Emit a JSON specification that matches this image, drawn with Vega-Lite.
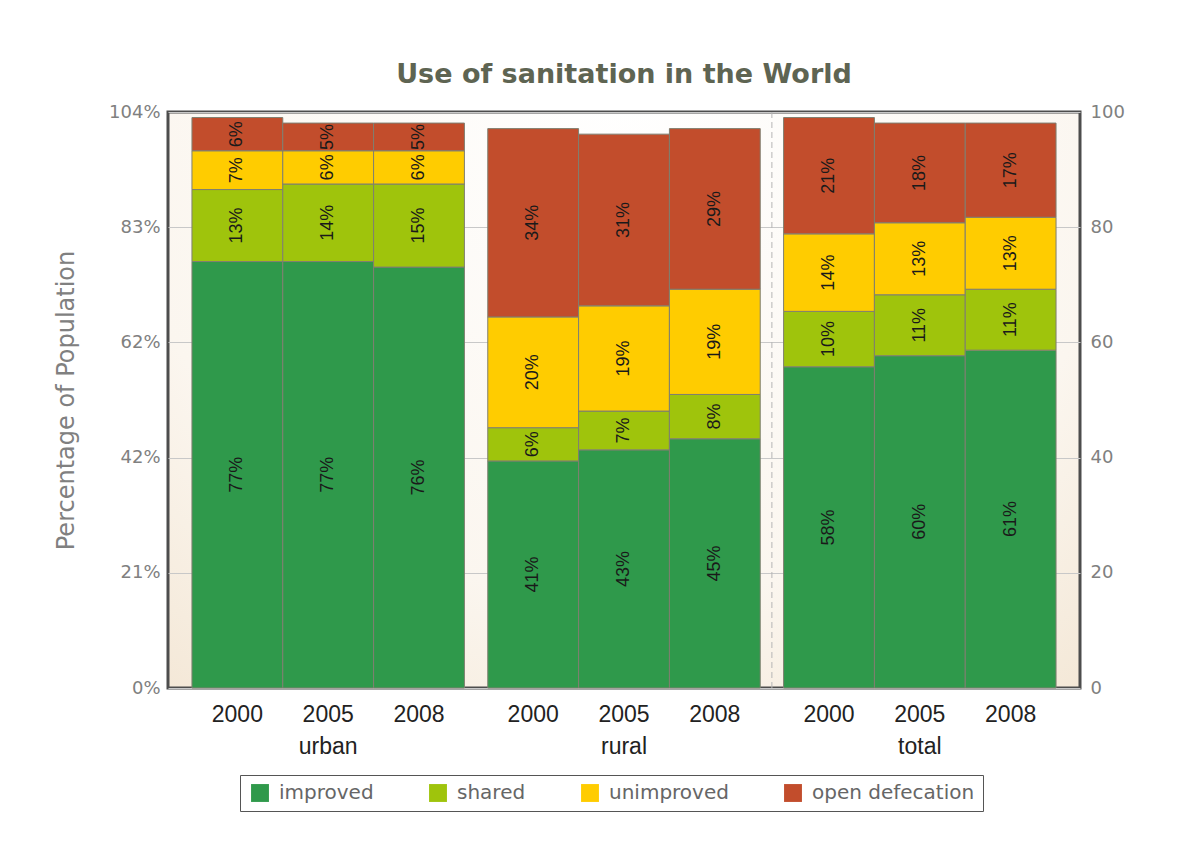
{
  "$schema": "https://vega.github.io/schema/vega-lite/v6.json",
  "width": 912,
  "height": 576,
  "autosize": {"type": "none"},
  "padding": {"left": 168, "top": 112, "right": 97, "bottom": 153},
  "background": "white",
  "title": {"text": "Use of sanitation in the World", "font": "DejaVu Sans", "fontSize": 27, "fontWeight": "bold", "color": "#5e6452", "anchor": "middle", "offset": 14},
  "data": {"values": [
    {"group": "urban", "year": "2000", "category": "improved", "value": 77},
    {"group": "urban", "year": "2000", "category": "shared", "value": 13},
    {"group": "urban", "year": "2000", "category": "unimproved", "value": 7},
    {"group": "urban", "year": "2000", "category": "open defecation", "value": 6},
    {"group": "urban", "year": "2005", "category": "improved", "value": 77},
    {"group": "urban", "year": "2005", "category": "shared", "value": 14},
    {"group": "urban", "year": "2005", "category": "unimproved", "value": 6},
    {"group": "urban", "year": "2005", "category": "open defecation", "value": 5},
    {"group": "urban", "year": "2008", "category": "improved", "value": 76},
    {"group": "urban", "year": "2008", "category": "shared", "value": 15},
    {"group": "urban", "year": "2008", "category": "unimproved", "value": 6},
    {"group": "urban", "year": "2008", "category": "open defecation", "value": 5},
    {"group": "rural", "year": "2000", "category": "improved", "value": 41},
    {"group": "rural", "year": "2000", "category": "shared", "value": 6},
    {"group": "rural", "year": "2000", "category": "unimproved", "value": 20},
    {"group": "rural", "year": "2000", "category": "open defecation", "value": 34},
    {"group": "rural", "year": "2005", "category": "improved", "value": 43},
    {"group": "rural", "year": "2005", "category": "shared", "value": 7},
    {"group": "rural", "year": "2005", "category": "unimproved", "value": 19},
    {"group": "rural", "year": "2005", "category": "open defecation", "value": 31},
    {"group": "rural", "year": "2008", "category": "improved", "value": 45},
    {"group": "rural", "year": "2008", "category": "shared", "value": 8},
    {"group": "rural", "year": "2008", "category": "unimproved", "value": 19},
    {"group": "rural", "year": "2008", "category": "open defecation", "value": 29},
    {"group": "total", "year": "2000", "category": "improved", "value": 58},
    {"group": "total", "year": "2000", "category": "shared", "value": 10},
    {"group": "total", "year": "2000", "category": "unimproved", "value": 14},
    {"group": "total", "year": "2000", "category": "open defecation", "value": 21},
    {"group": "total", "year": "2005", "category": "improved", "value": 60},
    {"group": "total", "year": "2005", "category": "shared", "value": 11},
    {"group": "total", "year": "2005", "category": "unimproved", "value": 13},
    {"group": "total", "year": "2005", "category": "open defecation", "value": 18},
    {"group": "total", "year": "2008", "category": "improved", "value": 61},
    {"group": "total", "year": "2008", "category": "shared", "value": 11},
    {"group": "total", "year": "2008", "category": "unimproved", "value": 13},
    {"group": "total", "year": "2008", "category": "open defecation", "value": 17}
  ]},
  "transform": [
    {"calculate": "indexof(['improved','shared','unimproved','open defecation'], datum.category)", "as": "rank"},
    {"stack": "value", "groupby": ["group", "year"], "sort": [{"field": "rank", "order": "ascending"}], "as": ["v0", "v1"]},
    {"calculate": "(datum.v0 + datum.v1) / 2", "as": "mid"},
    {"calculate": "datum.value + '%'", "as": "label"}
  ],
  "layer": [
    {
      "encoding": {
        "x": {
          "field": "group", "type": "nominal",
          "scale": {"domain": ["urban", "rural", "total"], "paddingInner": 0.079, "paddingOuter": 0.081},
          "axis": {"title": null, "domain": false, "ticks": false, "labelPadding": 58, "labelBaseline": "middle", "labelFont": "Liberation Sans", "labelFontSize": 23, "labelColor": "#222222", "labelAngle": 0}
        }
      },
      "layer": [
        {
          "mark": {"type": "bar", "stroke": "#7f7f70", "strokeWidth": 1},
          "encoding": {
            "xOffset": {"field": "year", "type": "ordinal", "scale": {"paddingInner": 0, "paddingOuter": 0}},
            "y": {
              "field": "v0", "type": "quantitative", "title": "Percentage of Population",
              "scale": {"domain": [0, 104], "nice": false, "zero": true},
              "axis": {
                "values": [0, 20.8, 41.6, 62.4, 83.2, 104],
                "labelExpr": "round(datum.value) + '%'",
                "grid": true, "gridColor": "#c8c8c8", "domain": false, "ticks": false,
                "labelFont": "DejaVu Sans", "labelFontSize": 18, "labelColor": "#808080", "labelPadding": 8,
                "titleFont": "DejaVu Sans", "titleFontSize": 24, "titleFontWeight": "normal", "titleColor": "#808080", "titlePadding": 30
              }
            },
            "y2": {"field": "v1"},
            "color": {
              "field": "category", "type": "nominal",
              "sort": ["improved", "shared", "unimproved", "open defecation"],
              "scale": {"domain": ["improved", "shared", "unimproved", "open defecation"], "range": ["#2f994b", "#9fc40c", "#ffcc00", "#c24d2c"]},
              "legend": {
                "orient": "none", "legendX": 72, "legendY": 663, "direction": "horizontal", "title": null,
                "symbolType": "square", "symbolSize": 320, "symbolStrokeWidth": 0, "symbolOpacity": 1, "symbolOffset": 2, "labelOffset": 9,
                "labelFont": "DejaVu Sans", "labelFontSize": 20, "labelColor": "#666666", "labelLimit": 400,
                "columnPadding": 52, "padding": 8, "strokeColor": "#555555", "fillColor": "white"
              }
            }
          }
        },
        {
          "mark": {"type": "text", "angle": 270, "align": "center", "baseline": "middle", "font": "Liberation Sans", "fontSize": 18, "color": "#1a1a1a"},
          "encoding": {
            "xOffset": {"field": "year", "type": "ordinal", "scale": {"paddingInner": 0, "paddingOuter": 0}},
            "y": {"field": "mid", "type": "quantitative", "title": "Percentage of Population"},
            "text": {"field": "label"}
          }
        },
        {
          "transform": [{"filter": "datum.category === 'improved'"}],
          "mark": {"type": "text", "align": "center", "baseline": "middle", "font": "Liberation Sans", "fontSize": 23, "color": "#222222"},
          "encoding": {
            "xOffset": {"field": "year", "type": "ordinal", "scale": {"paddingInner": 0, "paddingOuter": 0}},
            "y": {"datum": -4.8, "type": "quantitative", "title": "Percentage of Population"},
            "text": {"field": "year"}
          }
        },
        {
          "data": {"values": [{}]},
          "mark": {"type": "rule", "strokeDash": [6, 4], "color": "#b5b5b5", "strokeWidth": 1},
          "encoding": {
            "x": {"datum": "total", "type": "nominal", "bandPosition": -0.043}
          }
        }
      ]
    },
    {
      "mark": {"type": "point", "opacity": 0},
      "encoding": {
        "y": {
          "datum": 0, "type": "quantitative",
          "scale": {"domain": [0, 100], "nice": false},
          "axis": {
            "orient": "right", "title": null, "values": [0, 20, 40, 60, 80, 100],
            "grid": false, "domain": false, "ticks": false,
            "labelFont": "DejaVu Sans", "labelFontSize": 18, "labelColor": "#808080", "labelPadding": 10
          }
        }
      }
    }
  ],
  "resolve": {"scale": {"y": "independent"}, "axis": {"y": "independent"}},
  "config": {
    "view": {
      "stroke": "#4d4d4d",
      "strokeWidth": 3,
      "fill": {"gradient": "radial", "x1": 0.5, "y1": 0.15, "r1": 0, "x2": 0.5, "y2": 0.15, "r2": 0.95,
        "stops": [{"offset": 0, "color": "#ffffff"}, {"offset": 0.6, "color": "#fbf6ef"}, {"offset": 1, "color": "#f1e2cd"}]}
    }
  }
}
